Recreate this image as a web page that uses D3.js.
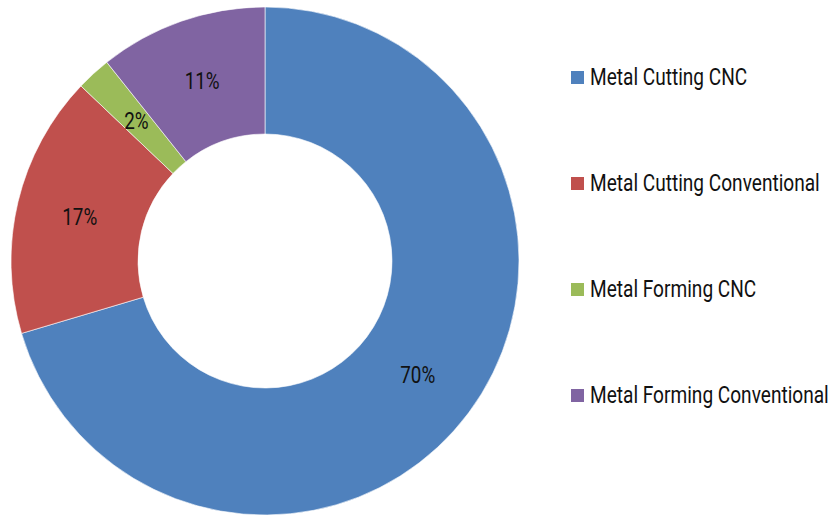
<!DOCTYPE html>
<html>
<head>
<meta charset="utf-8">
<script src="https://cdn.jsdelivr.net/npm/d3@7"></script>
<style>
  html, body { margin: 0; padding: 0; background: #fff; }
  svg { display: block; }
</style>
</head>
<body>
<div id="chart"></div>
<script>
// Donut — machine tool segment shares
const categories = ["Metal Cutting CNC", "Metal Cutting Conventional", "Metal Forming CNC", "Metal Forming Conventional"];
const shares = [70.4, 16.7, 2.2, 10.7]; // labels are rounded
const colors = ["#4F81BD", "#C0504D", "#9BBB59", "#8064A2"];

const W = 833, H = 515;
const cx = 265, cy = 261, rOuter = 254, rInner = 127;
const fontFam = "Roboto, 'Liberation Sans', sans-serif";
const squeeze = 0.83; // condensed face imitation

const svg = d3.select("#chart").append("svg")
  .attr("width", W).attr("height", H);

const data = categories.map((c, i) => ({ name: c, value: shares[i], color: colors[i] }));

const pie = d3.pie().value(d => d.value).sort(null);
const arc = d3.arc().innerRadius(rInner).outerRadius(rOuter);

const g = svg.append("g").attr("transform", `translate(${cx},${cy})`);
const arcs = pie(data);

g.selectAll("path").data(arcs).join("path")
  .attr("d", arc)
  .attr("fill", d => d.data.color)
  .attr("stroke", "#fff").attr("stroke-width", 0.6);

// slice labels at centroid
g.selectAll("text.lbl").data(arcs).join("text")
  .attr("class", "lbl")
  .attr("transform", d => {
    const [x, y] = arc.centroid(d);
    return `translate(${x},${y}) scale(0.82,1)`;
  })
  .attr("text-anchor", "middle").attr("dy", "0.36em")
  .attr("font-family", fontFam).attr("font-size", "23px")
  .attr("fill", "#111")
  .text(d => Math.round(d.value) + "%");

// legend
const ly = d3.scalePoint().domain(categories).range([77, 395]);
const lg = svg.append("g");
const items = lg.selectAll("g").data(data).join("g")
  .attr("transform", d => `translate(571,${ly(d.name)})`);
items.append("rect")
  .attr("x", 0).attr("y", -6).attr("width", 13).attr("height", 13)
  .attr("fill", d => d.color);
items.append("text")
  .attr("transform", `translate(19,0) scale(${squeeze},1)`)
  .attr("dy", "0.36em")
  .attr("font-family", fontFam).attr("font-size", "23px")
  .attr("fill", "#111")
  .text(d => d.name);
</script>
</body>
</html>
